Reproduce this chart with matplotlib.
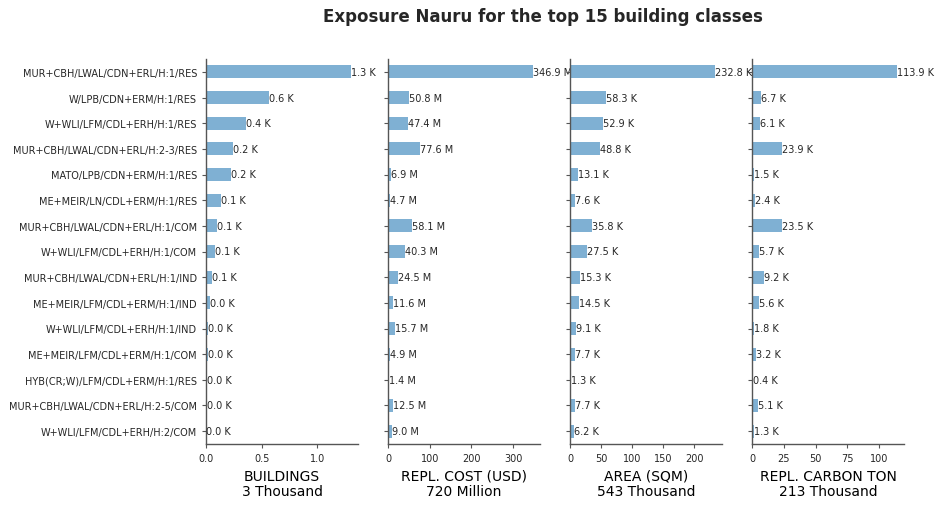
import matplotlib
matplotlib.use("Agg")
import matplotlib.pyplot as plt

classes = [
    "MUR+CBH/LWAL/CDN+ERL/H:1/RES",
    "W/LPB/CDN+ERM/H:1/RES",
    "W+WLI/LFM/CDL+ERH/H:1/RES",
    "MUR+CBH/LWAL/CDN+ERL/H:2-3/RES",
    "MATO/LPB/CDN+ERM/H:1/RES",
    "ME+MEIR/LN/CDL+ERM/H:1/RES",
    "MUR+CBH/LWAL/CDN+ERL/H:1/COM",
    "W+WLI/LFM/CDL+ERH/H:1/COM",
    "MUR+CBH/LWAL/CDN+ERL/H:1/IND",
    "ME+MEIR/LFM/CDL+ERM/H:1/IND",
    "W+WLI/LFM/CDL+ERH/H:1/IND",
    "ME+MEIR/LFM/CDL+ERM/H:1/COM",
    "HYB(CR;W)/LFM/CDL+ERM/H:1/RES",
    "MUR+CBH/LWAL/CDN+ERL/H:2-5/COM",
    "W+WLI/LFM/CDL+ERH/H:2/COM",
]
buildings_k = [1.30, 0.567, 0.36, 0.243, 0.225, 0.135, 0.099, 0.081, 0.05, 0.04, 0.02, 0.02, 0.01, 0.005, 0.004]
cost_m = [346.9, 50.8, 47.4, 77.6, 6.9, 4.7, 58.1, 40.3, 24.5, 11.6, 15.7, 4.9, 1.4, 12.5, 9.0]
area_k = [232.8, 58.3, 52.9, 48.8, 13.1, 7.6, 35.8, 27.5, 15.3, 14.5, 9.1, 7.7, 1.3, 7.7, 6.2]
carbon_k = [113.9, 6.7, 6.1, 23.9, 1.5, 2.4, 23.5, 5.7, 9.2, 5.6, 1.8, 3.2, 0.4, 5.1, 1.3]

panels = [
    ("BUILDINGS\n3 Thousand", buildings_k, "K"),
    ("REPL. COST (USD)\n720 Million", cost_m, "M"),
    ("AREA (SQM)\n543 Thousand", area_k, "K"),
    ("REPL. CARBON TON\n213 Thousand", carbon_k, "K"),
]

W, H = 944, 510
fig = plt.figure(figsize=(W / 100, H / 100), dpi=100)
bar_color = "#7fb0d3"
text_color = "#262626"
spine_color = "#555555"

lefts = [206, 388, 570, 752]
width = 152
top, bottom = 60, 445
ypos = list(range(len(classes)))

for i, (label, vals, unit) in enumerate(panels):
    ax = fig.add_axes([lefts[i] / W, 1 - bottom / H, width / W, (bottom - top) / H])
    ax.barh(ypos, vals, height=0.5, color=bar_color)
    ax.set_ylim(len(classes) - 0.5, -0.5)
    ax.set_xlim(0, max(vals) * 1.05)
    ax.set_yticks(ypos)
    if i == 0:
        ax.set_yticklabels(classes, fontsize=7, color=text_color)
    else:
        ax.set_yticklabels([])
    for y, v in zip(ypos, vals):
        ax.text(v, y, f"{v:.1f} {unit}", va="center", ha="left", fontsize=7,
                color=text_color, clip_on=False)
    ax.tick_params(axis="x", labelsize=7, colors=text_color, length=3, color=spine_color)
    ax.tick_params(axis="y", length=3, color=spine_color)
    for s in ["top", "right"]:
        ax.spines[s].set_visible(False)
    for s in ["left", "bottom"]:
        ax.spines[s].set_color(spine_color)
        ax.spines[s].set_linewidth(1.0)
    ax.set_xlabel(label, fontsize=10, color="black", linespacing=1.1)

fig.text(0.575, 1 - 17 / H, "Exposure Nauru for the top 15 building classes",
         ha="center", va="center", fontsize=12, fontweight="bold", color=text_color)

fig.savefig("out.png", dpi=100)
